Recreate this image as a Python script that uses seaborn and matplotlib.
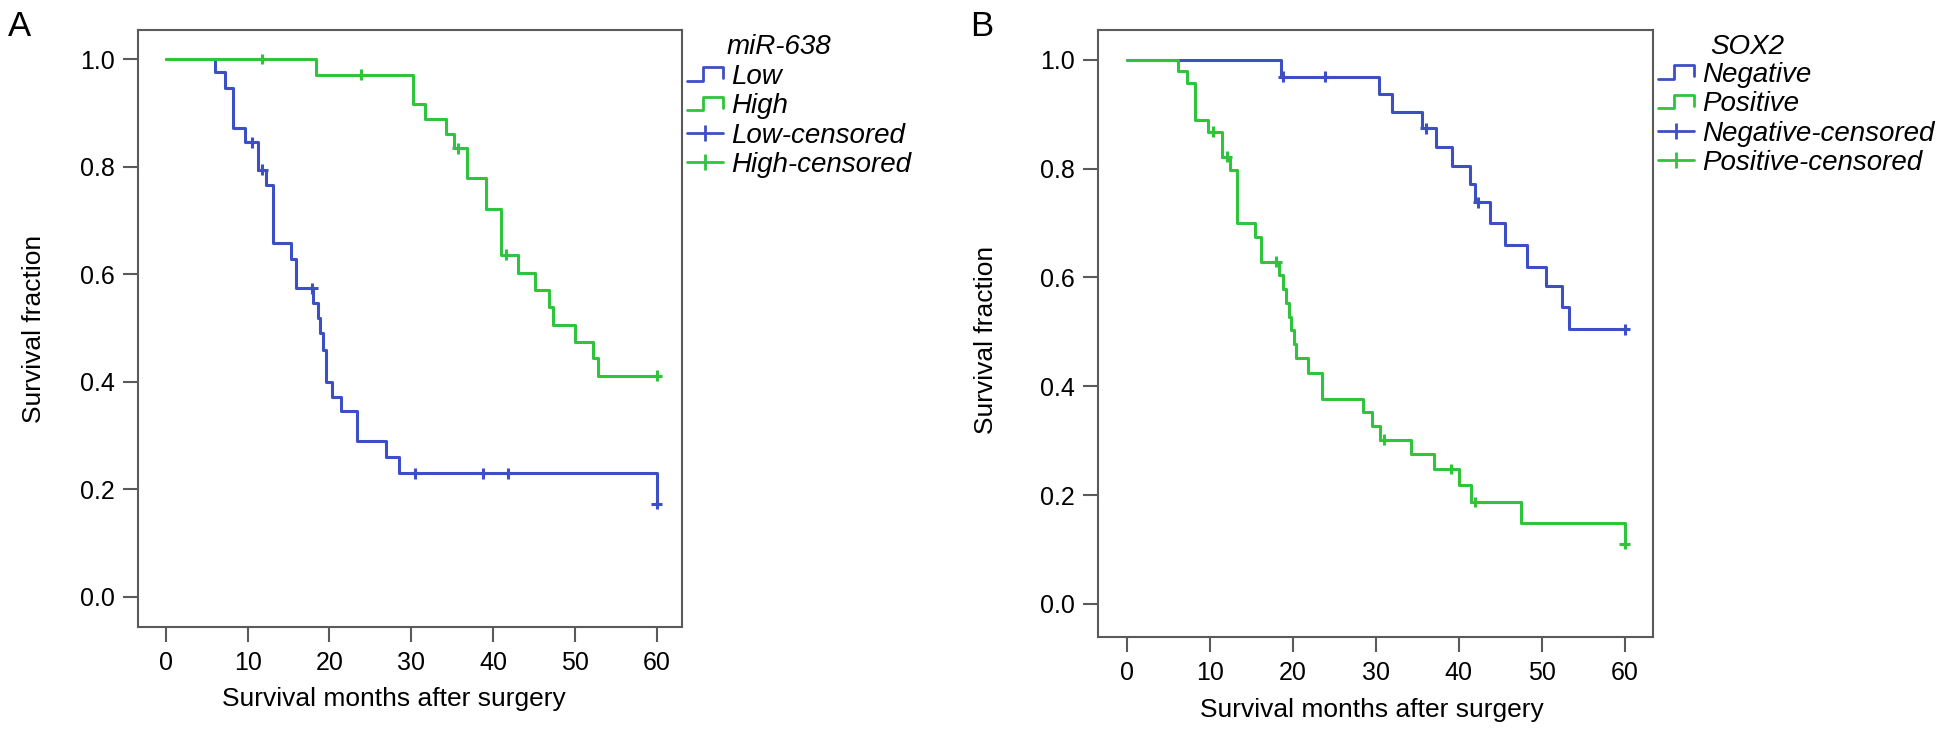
import numpy as np
import pandas as pd
import seaborn as sns
import matplotlib.pyplot as plt
from matplotlib.lines import Line2D
from matplotlib.legend_handler import HandlerBase

# Panel A: miR-638 (Kaplan-Meier steps)
low_t = [0, 6.0, 7.2, 8.2, 9.7, 11.3, 12.2, 13.1, 15.3, 15.9, 18.0, 18.6, 18.8, 19.2, 19.6,
         20.3, 21.4, 23.4, 26.9, 28.5, 60.0]
low_s = [1.0, 0.975, 0.947, 0.871, 0.845, 0.794, 0.766, 0.658, 0.628, 0.574, 0.546, 0.518,
         0.490, 0.459, 0.400, 0.372, 0.346, 0.289, 0.260, 0.230, 0.173]
low_cens = [10.5, 11.8, 17.9, 30.5, 38.8, 41.8, 60.0]

high_t = [0, 18.4, 30.2, 31.7, 34.3, 35.2, 36.8, 39.1, 41.0, 43.1, 45.1, 46.9, 47.3, 50.0,
          52.2, 52.8, 60.0]
high_s = [1.0, 0.971, 0.916, 0.888, 0.860, 0.834, 0.778, 0.721, 0.636, 0.603, 0.571, 0.539,
          0.506, 0.474, 0.444, 0.411, 0.411]
high_cens = [11.8, 23.9, 35.7, 41.6, 60.0]

# Panel B: SOX2
neg_t = [0, 18.6, 30.4, 31.9, 35.6, 37.3, 39.2, 41.4, 42.0, 43.7, 45.5, 48.2, 50.5, 52.4,
         53.3, 60.0]
neg_s = [1.0, 0.969, 0.9375, 0.905, 0.874, 0.839, 0.805, 0.772, 0.738, 0.700, 0.660, 0.620,
         0.585, 0.545, 0.505, 0.505]
neg_cens = [18.8, 23.9, 36.0, 42.3, 60.0]

pos_t = [0, 6.1, 7.2, 8.2, 9.8, 11.4, 12.4, 13.2, 15.4, 16.2, 18.3, 18.8, 19.2, 19.5, 19.8,
         20.1, 20.4, 21.8, 23.5, 28.4, 29.5, 30.5, 34.2, 37.0, 40.0, 41.5, 47.5, 60.0]
pos_s = [1.0, 0.979, 0.957, 0.890, 0.868, 0.822, 0.798, 0.700, 0.675, 0.629, 0.604, 0.578,
         0.553, 0.528, 0.503, 0.478, 0.452, 0.424, 0.377, 0.352, 0.327, 0.302, 0.275, 0.248,
         0.218, 0.187, 0.148, 0.110]
pos_cens = [10.4, 12.0, 18.0, 31.0, 39.0, 42.0, 60.0]

blue = '#3D4FC4'
green = '#2EC43C'
spine_col = '#5a5a5a'

sns.set_theme(style='ticks')
plt.rcParams['font.family'] = ['Liberation Sans', 'DejaVu Sans']
plt.rcParams['text.color'] = 'black'
plt.rcParams['axes.labelcolor'] = 'black'
plt.rcParams['xtick.labelcolor'] = 'black'
plt.rcParams['ytick.labelcolor'] = 'black'


class StepHandler(HandlerBase):
    def create_artists(self, legend, orig_handle, xdescent, ydescent, width, height,
                       fontsize, trans):
        x0, y0 = -xdescent, -ydescent
        xs = [x0, x0 + 0.45 * width, x0 + 0.45 * width, x0 + width, x0 + width]
        ys = [y0 + 0.15 * height, y0 + 0.15 * height, y0 + 0.85 * height,
              y0 + 0.85 * height, y0 + 0.3 * height]
        ln = Line2D(xs, ys, color=orig_handle.get_color(), lw=2, transform=trans)
        return [ln]


def km_panel(ax, curves, xlim, ylim):
    rows, crows = [], []
    for name, t, s, cens in curves:
        for ti, si in zip(t, s):
            rows.append((name, ti, si))
        for c in cens:
            idx = np.searchsorted(t, c, side='right') - 1
            crows.append((name, c, s[idx]))
    df = pd.DataFrame(rows, columns=['group', 'time', 'surv'])
    dc = pd.DataFrame(crows, columns=['group', 'time', 'surv'])
    pal = {curves[0][0]: blue, curves[1][0]: green}
    sns.lineplot(data=df, x='time', y='surv', hue='group', palette=pal, estimator=None,
                 sort=False, drawstyle='steps-post', linewidth=2.2, legend=False, ax=ax)
    sns.scatterplot(data=dc, x='time', y='surv', hue='group', palette=pal, marker='+',
                    s=60, linewidth=2.2, legend=False, ax=ax, zorder=3)
    ax.set_xlim(*xlim)
    ax.set_ylim(*ylim)
    ax.set_xticks(range(0, 61, 10))
    ax.set_yticks([0, 0.2, 0.4, 0.6, 0.8, 1.0])
    ax.set_yticklabels(['0.0', '0.2', '0.4', '0.6', '0.8', '1.0'])
    for sp in ax.spines.values():
        sp.set_visible(True)
        sp.set_color(spine_col)
        sp.set_linewidth(1.5)
    ax.tick_params(length=11, width=1.5, color=spine_col, labelsize=18, pad=6)
    ax.set_xlabel('Survival months after surgery', fontsize=19)
    ax.set_ylabel('Survival fraction', fontsize=19)


W, H = 1959, 737
fig = plt.figure(figsize=(W / 100, H / 100), dpi=100)
axA = fig.add_axes([138 / W, 1 - 627 / H, 544 / W, 597 / H])
axB = fig.add_axes([1098 / W, 1 - 637 / H, 555 / W, 607 / H])

km_panel(axA, [('Low', low_t, low_s, low_cens), ('High', high_t, high_s, high_cens)],
         (-3.4, 63.1), (-0.056, 1.054))
km_panel(axB, [('Negative', neg_t, neg_s, neg_cens), ('Positive', pos_t, pos_s, pos_cens)],
         (-3.5, 63.4), (-0.061, 1.055))

axA.xaxis.set_label_coords(0.47, -0.1)
axA.yaxis.set_label_coords(-0.17, 0.5)
axB.xaxis.set_label_coords(0.494, -0.1)
axB.yaxis.set_label_coords(-0.18, 0.49)


def add_legend(ax, labels, title, x_left, y_top, x_title):
    h1 = Line2D([], [], color=blue)
    h2 = Line2D([], [], color=green)
    h3 = Line2D([], [], color=blue, marker='|', markersize=12, mew=2, lw=2)
    h4 = Line2D([], [], color=green, marker='|', markersize=12, mew=2, lw=2)
    fig.legend([h1, h2, h3, h4], labels, loc='upper left',
               bbox_to_anchor=(x_left / W, 1 - y_top / H),
               handler_map={h1: StepHandler(), h2: StepHandler()},
               prop={'style': 'italic', 'size': 20}, frameon=False, borderpad=0,
               borderaxespad=0, handlelength=1.3, handletextpad=0.3, labelspacing=0.12)
    fig.text(x_title / W, 1 - 47 / H, title, fontsize=20, style='italic', va='center')


add_legend(axA, ['Low', 'High', 'Low-censored', 'High-censored'], 'miR-638', 687, 64, 727)
add_legend(axB, ['Negative', 'Positive', 'Negative-censored', 'Positive-censored'], 'SOX2',
           1658, 62, 1710)

fig.text(19 / W, 1 - 27 / H, 'A', fontsize=25, ha='center', va='center')
fig.text(982 / W, 1 - 27 / H, 'B', fontsize=25, ha='center', va='center')

fig.savefig('out.png', dpi=100)
